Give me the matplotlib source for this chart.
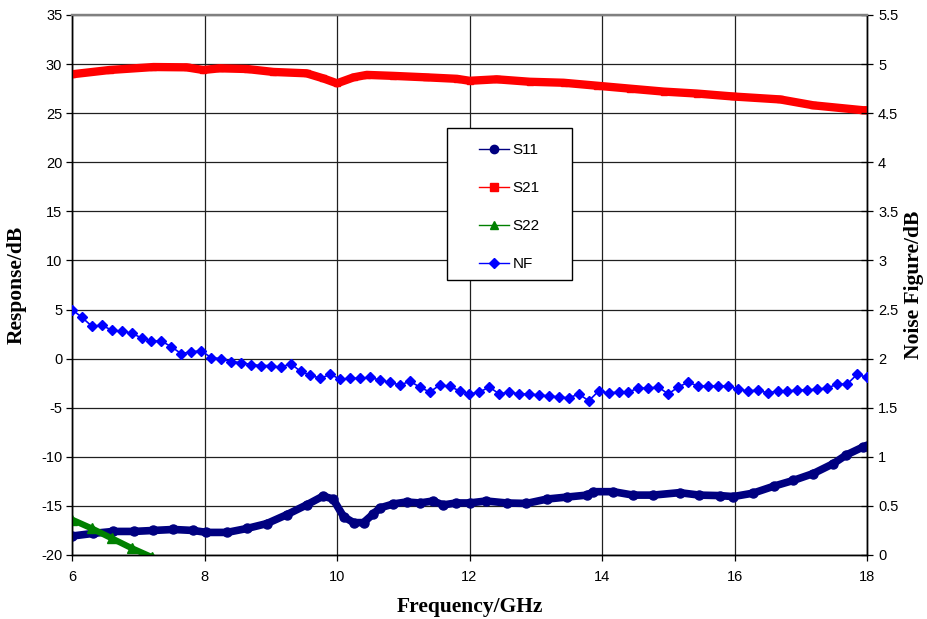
import matplotlib
matplotlib.use("Agg")
import matplotlib.pyplot as plt
from matplotlib.lines import Line2D
from matplotlib.patches import Rectangle

plt.rcParams["axes.unicode_minus"] = False

# ---- data ----
s11_f = [6.0, 6.32, 6.62, 6.93, 7.23, 7.53, 7.83, 8.03, 8.34, 8.64, 8.94, 9.24, 9.54, 9.79,
         9.94, 10.1, 10.25, 10.4, 10.55, 10.65, 10.85, 11.05, 11.25, 11.45, 11.6, 11.8, 12.0,
         12.25, 12.56, 12.86, 13.17, 13.47, 13.77, 13.87, 14.17, 14.47, 14.77, 15.17, 15.47,
         15.78, 15.98, 16.28, 16.59, 16.89, 17.19, 17.49, 17.69, 17.94, 18.0]
s11_v = [-18.07, -17.8, -17.6, -17.6, -17.5, -17.4, -17.5, -17.7, -17.7, -17.3, -16.8, -15.9,
         -14.9, -14.0, -14.3, -16.1, -16.7, -16.7, -15.8, -15.2, -14.8, -14.6, -14.7, -14.5,
         -14.9, -14.7, -14.7, -14.5, -14.7, -14.75, -14.3, -14.1, -13.9, -13.55, -13.55, -13.9,
         -13.9, -13.65, -13.9, -13.95, -14.05, -13.7, -13.0, -12.4, -11.7, -10.7, -9.8, -9.0, -8.9]

s21_f = [6.0, 6.57, 7.23, 7.73, 7.98, 8.23, 8.64, 9.04, 9.54, 9.79, 10.0, 10.25, 10.45, 10.85,
         11.35, 11.81, 12.0, 12.41, 12.91, 13.42, 13.92, 14.42, 14.93, 15.43, 15.98, 16.69,
         17.19, 17.94, 18.0]
s21_v = [28.96, 29.4, 29.7, 29.67, 29.4, 29.57, 29.5, 29.2, 29.06, 28.55, 28.04, 28.65, 28.9,
         28.8, 28.65, 28.5, 28.3, 28.45, 28.2, 28.1, 27.8, 27.5, 27.2, 27.0, 26.7, 26.4, 25.8,
         25.3, 25.3]

s22_f = [6.0, 6.3, 6.6, 6.9, 7.2, 7.5]
s22_v = [-16.4, -17.3, -18.3, -19.3, -20.2, -21.1]

nf_f = [6.0 + 0.15 * k for k in range(81)]
nf_v = [2.50, 2.42, 2.33, 2.34, 2.29, 2.28, 2.26, 2.21, 2.18, 2.18, 2.12, 2.05, 2.07, 2.08,
        2.01, 2.00, 1.97, 1.96, 1.94, 1.93, 1.93, 1.91, 1.95, 1.87, 1.83, 1.80, 1.84, 1.79,
        1.80, 1.80,
        1.81, 1.78, 1.76, 1.73, 1.77, 1.71, 1.66, 1.73, 1.72, 1.67, 1.64, 1.66, 1.71, 1.64,
        1.66, 1.64, 1.64, 1.63, 1.62, 1.61, 1.60, 1.64, 1.57, 1.67, 1.65, 1.66, 1.66, 1.70,
        1.70, 1.71, 1.64,
        1.71, 1.76, 1.72, 1.72, 1.72, 1.72, 1.69, 1.67, 1.68, 1.65, 1.67, 1.67, 1.68, 1.68,
        1.69, 1.70, 1.74, 1.74, 1.84, 1.81]

x_ticks = [6, 8, 10, 12, 14, 16, 18]
left_ticks = list(range(-20, 36, 5))
right_ticks = [i * 0.5 for i in range(12)]
series_names = ["S11", "S21", "S22", "NF"]

# ---- figure ----
W, H = 927, 619
fig = plt.figure(figsize=(W / 100, H / 100), dpi=100)
ax = fig.add_axes([72 / W, 1 - 555 / H, 795 / W, 540 / H])
ax2 = ax.twinx()

ax.set_xlim(6, 18)
ax.set_ylim(-20, 35)
ax2.set_ylim(0, 5.5)

ax.set_xticks(x_ticks)
ax.set_yticks(left_ticks)
ax2.set_yticks(right_ticks)
ax2.set_yticklabels([f"{t:g}" for t in right_ticks])

ax.grid(True, color="#202020", linewidth=0.9)
ax.set_axisbelow(True)

navy = "#000080"
red = "#FF0000"
green = "#008000"
blue = "#0000FF"

ax.plot(s11_f, s11_v, color=navy, lw=5.5, marker="o", ms=6.5, solid_capstyle="round", zorder=3)
ax.plot(s21_f, s21_v, color=red, lw=6, marker="s", ms=5, solid_capstyle="butt", zorder=3)
ax.plot(s22_f, s22_v, color=green, lw=4.5, marker="^", ms=7, zorder=3)
ax2.plot(nf_f, nf_v, color=blue, lw=1.2, marker="D", ms=5.5, zorder=3)

for a in (ax, ax2):
    for name, s in a.spines.items():
        s.set_color("black")
        s.set_linewidth(1.0)
    a.spines["top"].set_color("#808080")
    a.spines["top"].set_linewidth(1.6)

ax.tick_params(axis="both", direction="out", length=4, width=0.9, pad=3)
ax2.tick_params(axis="y", direction="inout", length=8, width=0.9, pad=4)
ax.tick_params(axis="x", pad=7)
for lbl in ax.get_xticklabels() + ax.get_yticklabels() + ax2.get_yticklabels():
    lbl.set_fontfamily("Liberation Sans")
    lbl.set_fontsize(10.5)

lab_font = dict(family="Liberation Serif", weight="bold", size=15.5)
ax.set_xlabel("Frequency/GHz", labelpad=9, **lab_font)
ax.set_ylabel("Response/dB", labelpad=10, **lab_font)
ax2.set_ylabel("Noise Figure/dB", labelpad=4, **lab_font)

# legend frame (pixel placement) + legend entries
frame = Rectangle((447 / W, 1 - 280 / H), 125 / W, 152 / H, transform=fig.transFigure,
                  facecolor="white", edgecolor="black", linewidth=1.0, clip_on=False,
                  zorder=9)
ax2.add_artist(frame)

handles = [
    Line2D([], [], color=navy, lw=1, marker="o", ms=6),
    Line2D([], [], color=red, lw=1, marker="s", ms=6),
    Line2D([], [], color=green, lw=1, marker="^", ms=6),
    Line2D([], [], color=blue, lw=1, marker="D", ms=5),
]
leg = ax2.legend(handles, series_names, loc="upper left",
                 bbox_to_anchor=(479 / W, 1 - 143 / H), bbox_transform=fig.transFigure,
                 prop=dict(family="Liberation Sans", size=11),
                 frameon=False, borderpad=0, labelspacing=1.57, handlelength=1.95,
                 handletextpad=0.25, borderaxespad=0)
leg.set_zorder(10)

fig.savefig("out.png", dpi=100)
